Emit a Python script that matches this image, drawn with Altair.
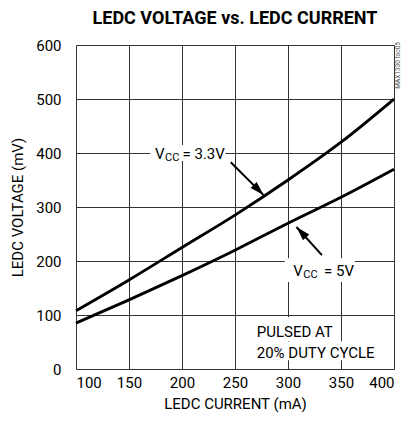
import altair as alt
import pandas as pd

FONT = "Roboto"

current = [100, 150, 200, 250, 300, 350, 400]
v_33 = [108, 165, 225, 285, 350, 420, 500]
v_5 = [85, 128, 173, 220, 270, 318, 370]

rows = []
for c, a, b in zip(current, v_33, v_5):
    rows.append({"current": c, "voltage": a, "series": "3.3V"})
    rows.append({"current": c, "voltage": b, "series": "5V"})
df = pd.DataFrame(rows)

# annotation data (data coordinates)
box_x = [170, 297, 265, 265]
box_x2 = [241, 363, 344, 398]
box_y = [415, 205, 96, 51]
box_y2 = [385, 161, 52, 16]
boxes = pd.DataFrame({"x": box_x, "x2": box_x2, "y": box_y, "y2": box_y2})

lab_text = ["V", "CC", "= 3.3V", "V", "CC", "= 5V", "PULSED AT", "20% DUTY CYCLE"]
lab_x = [174.5, 184.0, 200.5, 305, 314.5, 334, 270.5, 270.5]
lab_y = [398, 391, 398, 182, 175, 182, 68, 30]
lab_size = [15, 11, 15, 15, 11, 15, 15, 15]
labels = pd.DataFrame({"text": lab_text, "x": lab_x, "y": lab_y, "size": lab_size})

arr_x = [246, 332]
arr_y = [383, 211]
arr_x2 = [277, 308]
arr_y2 = [322, 263]
arr_angle = [135, 317]
arrows = pd.DataFrame({"x": arr_x, "y": arr_y, "x2": arr_x2, "y2": arr_y2, "angle": arr_angle})

xs = alt.Scale(domain=[100, 400], nice=False)
ys = alt.Scale(domain=[0, 600], nice=False)

base_x = alt.X(
    "current:Q", scale=xs,
    axis=alt.Axis(values=[100, 150, 200, 250, 300, 350, 400], title="LEDC CURRENT (mA)",
                  grid=True, gridColor="#333", gridWidth=1, gridOpacity=1,
                  domain=False, ticks=False, labelPadding=6, labelFontSize=15,
                  titleFontSize=15, titleFontWeight="normal", titlePadding=6,
                  labelFont=FONT, titleFont=FONT, labelColor="#000", titleColor="#000"))
base_y = alt.Y(
    "voltage:Q", scale=ys,
    axis=alt.Axis(values=[0, 100, 200, 300, 400, 500, 600], title="LEDC VOLTAGE (mV)",
                  grid=True, gridColor="#333", gridWidth=1, gridOpacity=1,
                  domain=False, ticks=False, labelPadding=15, labelFontSize=15,
                  titleFontSize=15, titleFontWeight="normal", titlePadding=10,
                  labelFont=FONT, titleFont=FONT, labelColor="#000", titleColor="#000"))

lines = alt.Chart(df).mark_line(color="black", strokeWidth=2.9, interpolate="monotone").encode(
    x=base_x, y=base_y, detail="series:N")

rects = alt.Chart(boxes).mark_rect(color="white").encode(
    x=alt.X("x:Q", scale=xs), x2="x2", y=alt.Y("y:Q", scale=ys), y2="y2")

texts = alt.Chart(labels).mark_text(align="left", baseline="middle", font=FONT, color="black").encode(
    x=alt.X("x:Q", scale=xs), y=alt.Y("y:Q", scale=ys), text="text:N",
    size=alt.Size("size:Q", scale=None, legend=None))

arrow_lines = alt.Chart(arrows).mark_rule(color="black", strokeWidth=2).encode(
    x=alt.X("x:Q", scale=xs), y=alt.Y("y:Q", scale=ys), x2="x2", y2="y2")

heads = alt.Chart(arrows).mark_point(
    shape="M0,0L0.6,2L-0.6,2Z", filled=True, color="black", opacity=1, size=200).encode(
    x=alt.X("x2:Q", scale=xs), y=alt.Y("y2:Q", scale=ys),
    angle=alt.Angle("angle:Q", scale=None))

watermark = alt.Chart(pd.DataFrame({"t": ["MAX1330 toc05"], "x": [400], "y": [600]})).mark_text(
    angle=270, align="right", baseline="top", fontSize=6.5, font=FONT, color="#555", dy=1, dx=3).encode(
    x=alt.X("x:Q", scale=xs), y=alt.Y("y:Q", scale=ys), text="t:N")

chart = alt.layer(lines, rects, texts, arrow_lines, heads, watermark).properties(
    width=318, height=324,
    autosize=alt.AutoSizeParams(type="none"),
    padding={"left": 68, "top": 37, "right": 9, "bottom": 46},
    title=alt.TitleParams("LEDC VOLTAGE vs. LEDC CURRENT", font=FONT, fontSize=18,
                          fontWeight="bold", color="black", offset=10),
).configure_view(stroke="black", strokeWidth=3).configure(background="white")

chart.save("out.html", embed_options={"renderer": "svg", "actions": False})
